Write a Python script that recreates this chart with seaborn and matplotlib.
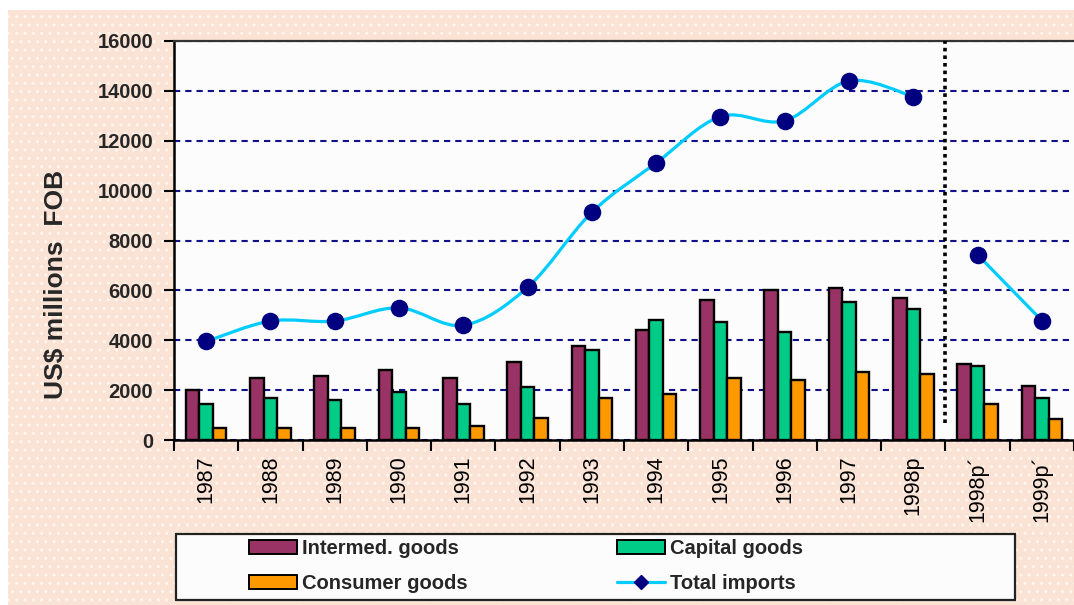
import numpy as np
import pandas as pd
import matplotlib
matplotlib.use("Agg")
import matplotlib.pyplot as plt
import seaborn as sns
from matplotlib.path import Path
from matplotlib.patches import PathPatch, Rectangle, Patch
from matplotlib.lines import Line2D

# ---------------- data ----------------
years = ['1987', '1988', '1989', '1990', '1991', '1992', '1993', '1994',
         '1995', '1996', '1997', '1998p', '1998p\u00b4', '1999p\u00b4']
intermed = [2000, 2470, 2550, 2800, 2470, 3120, 3760, 4400, 5600, 6000, 6100, 5680, 3030, 2160]
capital = [1430, 1670, 1600, 1910, 1430, 2130, 3600, 4800, 4720, 4320, 5520, 5270, 2960, 1670]
consumer = [480, 480, 480, 480, 550, 870, 1670, 1830, 2470, 2400, 2720, 2630, 1440, 860]
total = [3950, 4770, 4770, 5300, 4600, 6120, 9130, 11110, 12970, 12800, 14400, 13770, 7430, 4790]
# index of the first projected category (series break)
projection_start = 12

series_names = ['Intermed. goods', 'Capital goods', 'Consumer goods']
line_name = 'Total imports'
y_ticks = list(range(0, 16001, 2000))

colors = {'Intermed. goods': '#993366', 'Capital goods': '#00CC88', 'Consumer goods': '#FF9900'}
line_color = '#00CCFF'
marker_color = '#000080'

# ---------------- style ----------------
sns.set_style('white')
plt.rcParams['font.family'] = ['Liberation Sans', 'DejaVu Sans']
plt.rcParams['hatch.linewidth'] = 1.0

W, H = 1074, 605
fig = plt.figure(figsize=(W / 100, H / 100), dpi=100)
fig.patch.set_facecolor('white')

# peach dotted background
bg = Rectangle((8 / W, 0), 1 - 8 / W, 1 - 10 / H, transform=fig.transFigure,
               facecolor='#FAE3D5', edgecolor='#FFF6F0', hatch='..', linewidth=0, zorder=-10)
fig.patches.append(bg)

ax = fig.add_axes([174 / W, 165 / H, 900 / W, 399 / H])
ax.set_facecolor('#FCFCFC')

df = pd.DataFrame({
    'Year': years * 3,
    'Type': [series_names[0]] * len(years) + [series_names[1]] * len(years) + [series_names[2]] * len(years),
    'Value': intermed + capital + consumer,
})

sns.barplot(data=df, x='Year', y='Value', hue='Type', hue_order=series_names,
            palette=colors, order=years, width=0.63, edgecolor='black', linewidth=1.7,
            saturation=1, ax=ax, legend=False, zorder=2)

# smoothed total line (Catmull-Rom style Bezier through the data points)
def smooth_path(xs, ys):
    pts = np.column_stack([xs, ys]).astype(float)
    n = len(pts)
    verts = [pts[0]]
    codes = [Path.MOVETO]
    for i in range(n - 1):
        p0 = pts[i - 1] if i > 0 else pts[i]
        p1 = pts[i]
        p2 = pts[i + 1]
        p3 = pts[i + 2] if i + 2 < n else pts[i + 1]
        c1 = p1 + (p2 - p0) / 6.0
        c2 = p2 - (p3 - p1) / 6.0
        verts += [c1, c2, p2]
        codes += [Path.CURVE4] * 3
    return Path(verts, codes)

xpos = np.arange(len(years))
for seg in (slice(0, projection_start), slice(projection_start, len(years))):
    path = smooth_path(xpos[seg], np.array(total)[seg])
    ax.add_patch(PathPatch(path, facecolor='none', edgecolor=line_color, lw=2.3, zorder=4,
                           capstyle='round', joinstyle='round'))

sns.scatterplot(x=xpos, y=total, ax=ax, s=135, color=marker_color, edgecolor=marker_color,
                linewidth=1, zorder=5, legend=False)

# separator between actual and projected
ax.axvline(projection_start - 0.5, ymin=0.043, ymax=1, color='black', lw=2.6,
           linestyle=(0, (1, 1.1)), zorder=3)

# axes
ax.set_xlim(-0.5, len(years) - 0.5)
ax.set_ylim(0, 16000)
ax.set_yticks(y_ticks)
ax.set_yticklabels([str(v) for v in y_ticks], fontsize=14.5, fontweight='bold')
ax.yaxis.grid(True, color='#10108A', linestyle=(0, (3, 2.4)), linewidth=1.5)
ax.xaxis.grid(False)
ax.set_axisbelow(True)

ax.set_xticks(xpos)
ax.set_xticklabels(years, rotation=90, fontsize=15.5, va='top', ha='center')
ax.set_xticks(np.arange(-0.5, len(years), 1.0), minor=True)
ax.tick_params(axis='x', which='major', length=0, pad=11, colors='black')
ax.tick_params(axis='x', which='minor', length=8, width=1.5, color='black', direction='out', bottom=True)
ax.tick_params(axis='y', which='major', length=7, width=1.5, color='black', direction='out', pad=8, left=True)

ax.set_xlabel('')
ax.set_ylabel('US$ millions  FOB', fontsize=19, fontweight='bold')
ax.yaxis.set_label_coords(-0.118, 0.39)

for side in ('left', 'bottom'):
    ax.spines[side].set_color('black')
    ax.spines[side].set_linewidth(1.8)
ax.spines['top'].set_color('#333333')
ax.spines['top'].set_linewidth(1.6)
ax.spines['right'].set_visible(False)

# legend box
box = Rectangle((176 / W, 5 / H), 839 / W, 66 / H, transform=fig.transFigure,
                facecolor='#FCFCFC', edgecolor='#222222', linewidth=1.6, zorder=3)
fig.patches.append(box)

handles = [Patch(facecolor=colors[series_names[0]], edgecolor='black', linewidth=1.4),
           Patch(facecolor=colors[series_names[2]], edgecolor='black', linewidth=1.4),
           Patch(facecolor=colors[series_names[1]], edgecolor='black', linewidth=1.4),
           Line2D([], [], color=line_color, lw=2.3, marker='D', markersize=7,
                  markerfacecolor=marker_color, markeredgecolor=marker_color)]
labels = [series_names[0], series_names[2], series_names[1], line_name]
fig.legend(handles, labels, loc='upper left', bbox_to_anchor=(249 / W, 1 - 539 / H),
           ncol=2, frameon=False, borderpad=0, borderaxespad=0,
           prop={'size': 14.5, 'weight': 'bold'}, handlelength=2.4, handleheight=0.7,
           handletextpad=0.25, columnspacing=7.4, labelspacing=0.78)

fig.savefig('out.png', dpi=100)
